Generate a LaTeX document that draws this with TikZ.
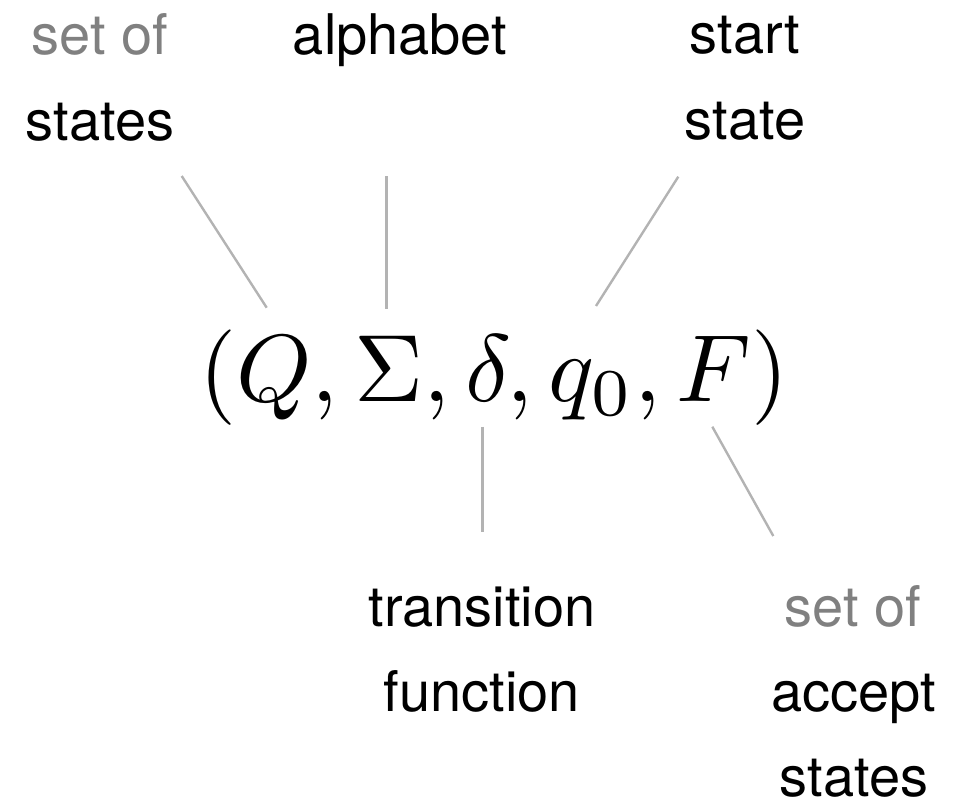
\documentclass[tikz,border=0pt]{standalone}
\usepackage[no-math]{fontspec}
\newfontfamily\helv{TeX Gyre Heros}
\definecolor{lbl}{HTML}{000000}
\definecolor{dim}{HTML}{808080}
\definecolor{conn}{HTML}{B3B3B3}
\tikzset{
  lab/.style={anchor=base,inner sep=0pt,font=\helv\fontsize{56}{67}\selectfont,text=lbl},
  dimlab/.style={lab,text=dim},
  leader/.style={draw=conn,line width=2.4pt},
}
\begin{document}
\begin{tikzpicture}[x=1pt,y=-1pt]
\useasboundingbox (0,0) rectangle (967,811);
% labels
\node[dimlab] (so1) at (100,54) {set of};
\node[lab] (st1) at (100,140) {states};
\node[lab] (alph) at (400,54) {alphabet};
\node[lab] (start) at (745,53) {start};
\node[lab] (sstate) at (745,139) {state};
\node[lab] (trans) at (482,626) {transition};
\node[lab] (func) at (482,711) {function};
\node[dimlab] (so2) at (853,626) {set of};
\node[lab] (acc) at (854,711) {accept};
\node[lab] (st2) at (854,796) {states};
% tuple
\node[anchor=base,inner sep=0pt,font=\fontsize{10}{12}\selectfont] (tuple) at (494,401) {\scalebox{9.55}{$(Q,\Sigma,\delta,q_0,F)$}};
% leader end points
\coordinate (a1) at (181.7,176);   \coordinate (b1) at (266.7,307.7);
\coordinate (a2) at (386.3,176);   \coordinate (b2) at (386.3,308.7);
\coordinate (a3) at (678.3,176.7); \coordinate (b3) at (596,306);
\coordinate (a4) at (482.3,426.7); \coordinate (b4) at (482.3,531.7);
\coordinate (a5) at (712.3,426.7); \coordinate (b5) at (773.3,536);
\draw[leader] (a1) -- (b1);
\draw[leader] (a2) -- (b2);
\draw[leader] (a3) -- (b3);
\draw[leader] (a4) -- (b4);
\draw[leader] (a5) -- (b5);
\end{tikzpicture}
\end{document}
